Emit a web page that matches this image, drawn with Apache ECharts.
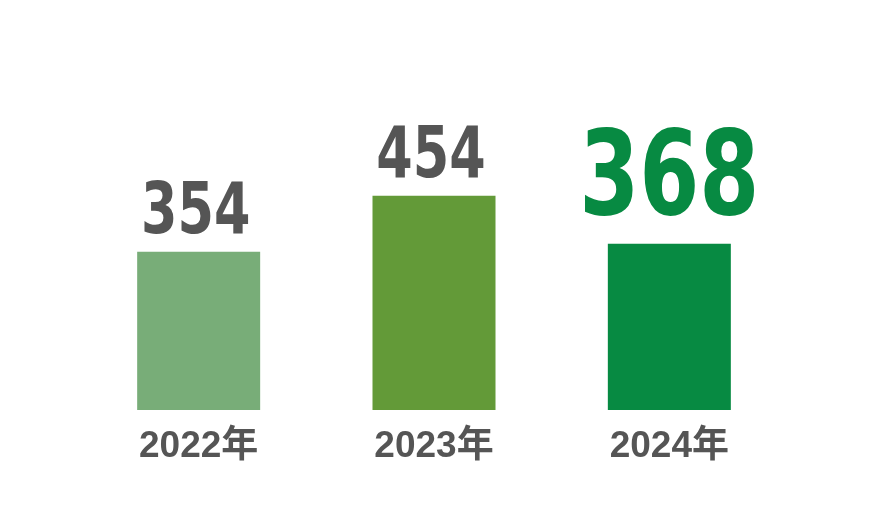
<!DOCTYPE html>
<html><head><meta charset="utf-8">
<script src="https://cdn.jsdelivr.net/npm/echarts@6/dist/echarts.min.js"></script>
<style>html,body{margin:0;padding:0;background:#fff}#c{width:878px;height:509px}</style>
</head><body><div id="c"></div>
<script>
const categories = ['2022年', '2023年', '2024年'];
const values = [354, 454, 368];
const barColors = ['#78AD78', '#639A38', '#078A42'];
const labelColors = ['#555555', '#555555', '#078A42'];
const labelSizes = [71, 71, 117];

const chart = echarts.init(document.getElementById('c'), null, {renderer: 'canvas'});
chart.setOption({
  animation: false,
  backgroundColor: '#ffffff',
  grid: {left: 81, right: 91, top: 110, bottom: 99},
  xAxis: {
    type: 'category', data: categories,
    axisLine: {show: false}, axisTick: {show: false},
    axisLabel: {margin: 18, color: '#555555', fontSize: 37, fontWeight: 'bold',
      fontFamily: '"Liberation Sans", "Noto Sans CJK JP", sans-serif'}
  },
  yAxis: {type: 'value', min: 70, max: 608, show: false, splitLine: {show: false}},
  series: [{
    type: 'bar', barWidth: 123,
    data: values.map((v, i) => ({value: v, itemStyle: {color: barColors[i]}}))
  }, {
    type: 'custom',
    data: values.map((v, i) => [i, v]),
    encode: {x: 0, y: 1},
    renderItem: function (params, api) {
      const i = params.dataIndex;
      const pt = api.coord([api.value(0), api.value(1)]);
      const big = i === 2;
      return {
        type: 'text',
        x: pt[0] + (big ? 0 : -3),
        y: pt[1] - 2,
        scaleX: big ? 0.82 : 0.82,
        style: {
          text: String(values[i]),
          fill: labelColors[i],
          fontSize: labelSizes[i],
          fontWeight: 'bold',
          fontFamily: '"DejaVu Sans Condensed", sans-serif',
          align: 'center',
          verticalAlign: 'bottom'
        }
      };
    }
  }]
});
</script></body></html>
